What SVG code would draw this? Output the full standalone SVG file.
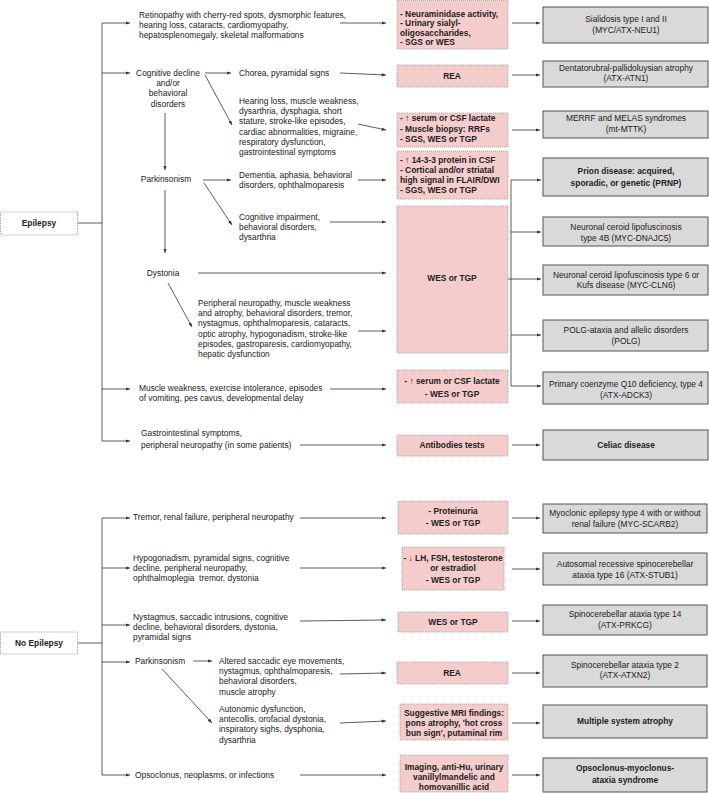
<svg xmlns="http://www.w3.org/2000/svg" width="709" height="793" viewBox="0 0 709 793">
<defs>
<style>
.t{font-family:"Liberation Sans",Arial,sans-serif;font-size:8.4px;fill:#222}
.b{font-weight:bold}
.m{text-anchor:middle}
.pk{fill:#f4cccc;stroke:#999;stroke-width:0.8;stroke-dasharray:1 1}
.gr{fill:#d9d9d9;stroke:#555;stroke-width:1}
.wb{fill:#fff;stroke:#888;stroke-width:0.8;stroke-dasharray:1 1}
.ln{stroke:#333;stroke-width:0.8;fill:none}
.ar{marker-end:url(#ah)}
</style>
<marker id="ah" viewBox="0 0 8 6" refX="8" refY="3" markerWidth="4.5" markerHeight="3.4" markerUnits="userSpaceOnUse" orient="auto"><path d="M0,0 L8,3 L0,6 z" fill="#333"/></marker>
</defs>
<rect width="709" height="793" fill="#fff"/>

<g id="connectors">
<line class="ln" x1="78" y1="223" x2="102" y2="223"/>
<line class="ln" x1="102" y1="23" x2="102" y2="441"/>
<line class="ln ar" x1="102" y1="23" x2="130" y2="23"/>
<line class="ln ar" x1="102" y1="73" x2="130" y2="73"/>
<line class="ln ar" x1="102" y1="389" x2="130" y2="389"/>
<line class="ln ar" x1="102" y1="441" x2="130" y2="441"/>
<line class="ln ar" x1="205" y1="73" x2="231" y2="73"/>
<line class="ln ar" x1="205" y1="75" x2="232" y2="125"/>
<line class="ln ar" x1="165" y1="113" x2="165" y2="170"/>
<line class="ln ar" x1="203" y1="180" x2="231" y2="180"/>
<line class="ln ar" x1="204" y1="183" x2="232" y2="225"/>
<line class="ln ar" x1="165" y1="190" x2="165" y2="253"/>
<line class="ln ar" x1="168" y1="283" x2="192" y2="327"/>
<line class="ln ar" x1="340" y1="23" x2="386" y2="23"/>
<line class="ln ar" x1="340" y1="73" x2="386" y2="75"/>
<line class="ln ar" x1="358" y1="124" x2="386" y2="130"/>
<line class="ln ar" x1="358" y1="180" x2="386" y2="180"/>
<line class="ln ar" x1="330" y1="222" x2="386" y2="222"/>
<line class="ln ar" x1="198" y1="273" x2="386" y2="273"/>
<line class="ln ar" x1="358" y1="331" x2="386" y2="331"/>
<line class="ln ar" x1="330" y1="389" x2="386" y2="389"/>
<line class="ln ar" x1="300" y1="445" x2="386" y2="445"/>
<line class="ln ar" x1="512" y1="23" x2="540" y2="23"/>
<line class="ln ar" x1="512" y1="75" x2="540" y2="75"/>
<line class="ln ar" x1="512" y1="130" x2="540" y2="130"/>
<line class="ln" x1="511" y1="180" x2="511" y2="386"/>
<line class="ln ar" x1="511" y1="180" x2="541" y2="180"/>
<line class="ln ar" x1="511" y1="232" x2="541" y2="232"/>
<line class="ln ar" x1="508" y1="279" x2="541" y2="279"/>
<line class="ln ar" x1="511" y1="335" x2="541" y2="335"/>
<line class="ln ar" x1="511" y1="386" x2="541" y2="386"/>
<line class="ln ar" x1="512" y1="445" x2="540" y2="445"/>
<line class="ln" x1="78" y1="643" x2="102" y2="643"/>
<line class="ln" x1="102" y1="518" x2="102" y2="775"/>
<line class="ln ar" x1="102" y1="518" x2="130" y2="518"/>
<line class="ln ar" x1="102" y1="568" x2="130" y2="568"/>
<line class="ln ar" x1="102" y1="625" x2="130" y2="625"/>
<line class="ln ar" x1="102" y1="662" x2="130" y2="662"/>
<line class="ln ar" x1="102" y1="775" x2="130" y2="775"/>
<line class="ln ar" x1="193" y1="661" x2="212" y2="661"/>
<line class="ln ar" x1="162" y1="669" x2="212" y2="723"/>
<line class="ln ar" x1="300" y1="518" x2="386" y2="518"/>
<line class="ln ar" x1="300" y1="568" x2="386" y2="568"/>
<line class="ln ar" x1="300" y1="621" x2="386" y2="620"/>
<line class="ln ar" x1="340" y1="674" x2="386" y2="673"/>
<line class="ln ar" x1="340" y1="723" x2="386" y2="721"/>
<line class="ln ar" x1="300" y1="775" x2="386" y2="775"/>
<line class="ln ar" x1="512" y1="518" x2="540" y2="518"/>
<line class="ln ar" x1="512" y1="569" x2="540" y2="569"/>
<line class="ln ar" x1="512" y1="621" x2="540" y2="621"/>
<line class="ln ar" x1="512" y1="673" x2="540" y2="673"/>
<line class="ln ar" x1="512" y1="723" x2="540" y2="723"/>
<line class="ln ar" x1="512" y1="775" x2="540" y2="775"/>
</g>

<g id="epilepsy"><rect class="wb" x="0.5" y="212" width="77" height="23"/><text class="t b m" x="39" y="226">Epilepsy</text></g>
<g id="no-epilepsy"><rect class="wb" x="0.5" y="632" width="77" height="22"/><text class="t b m" x="39" y="646">No Epilepsy</text></g>

<g id="retinopathy"><text class="t" x="139" y="18">Retinopathy with cherry-red spots, dysmorphic features,</text><text class="t" x="139" y="28.2">hearing loss, cataracts, cardiomyopathy,</text><text class="t" x="139" y="38.4">hepatosplenomegaly, skeletal malformations</text></g>
<g id="cognitive"><text class="t m" x="168" y="76">Cognitive decline</text><text class="t m" x="168" y="86.2">and/or</text><text class="t m" x="168" y="96.4">behavioral</text><text class="t m" x="168" y="106.6">disorders</text></g>
<g id="chorea"><text class="t" x="239" y="76">Chorea, pyramidal signs</text></g>
<g id="hearing"><text class="t" x="239" y="104">Hearing loss, muscle weakness,</text><text class="t" x="239" y="114.2">dysarthria, dysphagia, short</text><text class="t" x="239" y="124.4">stature, stroke-like episodes,</text><text class="t" x="239" y="134.6">cardiac abnormalities, migraine,</text><text class="t" x="239" y="144.8">respiratory dysfunction,</text><text class="t" x="239" y="155">gastrointestinal symptoms</text></g>
<g id="parkinsonism-e"><text class="t m" x="166" y="182">Parkinsonism</text></g>
<g id="dementia"><text class="t" x="239" y="178">Dementia, aphasia, behavioral</text><text class="t" x="239" y="188.2">disorders, ophthalmoparesis</text></g>
<g id="cog-impairment"><text class="t" x="239" y="220">Cognitive impairment,</text><text class="t" x="239" y="230.2">behavioral disorders,</text><text class="t" x="239" y="240.4">dysarthria</text></g>
<g id="dystonia"><text class="t m" x="163" y="276">Dystonia</text></g>
<g id="peripheral"><text class="t" x="198" y="306">Peripheral neuropathy, muscle weakness</text><text class="t" x="198" y="316.2">and atrophy, behavioral disorders, tremor,</text><text class="t" x="198" y="326.4">nystagmus, ophthalmoparesis, cataracts,</text><text class="t" x="198" y="336.6">optic atrophy, hypogonadism, stroke-like</text><text class="t" x="198" y="346.8">episodes, gastroparesis, cardiomyopathy,</text><text class="t" x="198" y="357">hepatic dysfunction</text></g>
<g id="muscle"><text class="t" x="139" y="391">Muscle weakness, exercise intolerance, episodes</text><text class="t" x="139" y="401.2">of vomiting, pes cavus, developmental delay</text></g>
<g id="gastro"><text class="t" x="141" y="436">Gastrointestinal symptoms,</text><text class="t" x="141" y="448">peripheral neuropathy (in some patients)</text></g>

<g id="test-neu"><rect class="pk" x="397" y="0.5" width="111" height="48.5"/><text class="t b" x="400" y="17">- Neuraminidase activity,</text><text class="t b" x="400" y="26.3">- Urinary sialyl-</text><text class="t b" x="400" y="35.6">oligosaccharides,</text><text class="t b" x="400" y="44.9">- SGS or WES</text></g>
<g id="test-rea1"><rect class="pk" x="397" y="65" width="111" height="22"/><text class="t b m" x="452" y="79">REA</text></g>
<g id="test-lact1"><rect class="pk" x="397" y="113" width="111" height="34"/><text class="t b" x="400" y="121">- ↑ serum or CSF lactate</text><text class="t b" x="400" y="131.5">- Muscle biopsy: RRFs</text><text class="t b" x="400" y="142">- SGS, WES or TGP</text></g>
<g id="test-prion"><rect class="pk" x="397" y="151" width="111" height="48"/><text class="t b" x="400" y="163">- ↑ 14-3-3 protein in CSF</text><text class="t b" x="400" y="173">- Cortical and/or striatal</text><text class="t b" x="400" y="183">high signal in FLAIR/DWI</text><text class="t b" x="400" y="193">- SGS, WES or TGP</text></g>
<g id="test-wes1"><rect class="pk" x="397" y="206" width="111" height="147"/><text class="t b m" x="452" y="281">WES or TGP</text></g>
<g id="test-lact2"><rect class="pk" x="397" y="370" width="111" height="33"/><text class="t b m" x="452" y="384">- ↑ serum or CSF lactate</text><text class="t b m" x="452" y="397">- WES or TGP</text></g>
<g id="test-ab"><rect class="pk" x="397" y="435" width="111" height="21"/><text class="t b m" x="452" y="448">Antibodies tests</text></g>

<g id="dx-sialidosis"><rect class="gr" x="543" y="7" width="165" height="36"/><text class="t m" x="626" y="22">Sialidosis type I and II</text><text class="t m" x="626" y="32.5">(MYC/ATX-NEU1)</text></g>
<g id="dx-drpla"><rect class="gr" x="543" y="61" width="165" height="26"/><text class="t m" x="626" y="70.5">Dentatorubral-pallidoluysian atrophy</text><text class="t m" x="626" y="81">(ATX-ATN1)</text></g>
<g id="dx-merrf"><rect class="gr" x="543" y="111" width="165" height="27"/><text class="t m" x="626" y="121">MERRF and MELAS syndromes</text><text class="t m" x="626" y="132">(mt-MTTK)</text></g>
<g id="dx-prion"><rect class="gr" x="543" y="158" width="165" height="38"/><text class="t b m" x="626" y="174">Prion disease: acquired,</text><text class="t b m" x="626" y="186">sporadic, or genetic (PRNP)</text></g>
<g id="dx-ncl4b"><rect class="gr" x="543" y="217" width="165" height="29"/><text class="t m" x="626" y="230">Neuronal ceroid lipofuscinosis</text><text class="t m" x="626" y="240.5">type 4B (MYC-DNAJC5)</text></g>
<g id="dx-ncl6"><rect class="gr" x="543" y="265" width="165" height="30"/><text class="t m" x="626" y="277.5">Neuronal ceroid lipofuscinosis type 6 or</text><text class="t m" x="626" y="288">Kufs disease (MYC-CLN6)</text></g>
<g id="dx-polg"><rect class="gr" x="543" y="320" width="165" height="31"/><text class="t m" x="626" y="333">POLG-ataxia and allelic disorders</text><text class="t m" x="626" y="344">(POLG)</text></g>
<g id="dx-coq10"><rect class="gr" x="543" y="372" width="165" height="32"/><text class="t m" x="626" y="387">Primary coenzyme Q10 deficiency, type 4</text><text class="t m" x="626" y="398">(ATX-ADCK3)</text></g>
<g id="dx-celiac"><rect class="gr" x="543" y="430" width="165" height="30"/><text class="t b m" x="626" y="448">Celiac disease</text></g>

<g id="tremor"><text class="t" x="133" y="520">Tremor, renal failure, peripheral neuropathy</text></g>
<g id="hypogonadism"><text class="t" x="133" y="561">Hypogonadism, pyramidal signs, cognitive</text><text class="t" x="133" y="571.2">decline, peripheral neuropathy,</text><text class="t" x="133" y="581.4">ophthalmoplegia&#160; tremor, dystonia</text></g>
<g id="nystagmus"><text class="t" x="133" y="620">Nystagmus, saccadic intrusions, cognitive</text><text class="t" x="133" y="630.2">decline, behavioral disorders, dystonia,</text><text class="t" x="133" y="640.4">pyramidal signs</text></g>
<g id="parkinsonism-n"><text class="t" x="135" y="664">Parkinsonism</text></g>
<g id="altered"><text class="t" x="219" y="664">Altered saccadic eye movements,</text><text class="t" x="219" y="674.2">nystagmus, ophthalmoparesis,</text><text class="t" x="219" y="684.4">behavioral disorders,</text><text class="t" x="219" y="694.6">muscle atrophy</text></g>
<g id="autonomic"><text class="t" x="219" y="712">Autonomic dysfunction,</text><text class="t" x="219" y="722.2">antecollis, orofacial dystonia,</text><text class="t" x="219" y="732.4">inspiratory sighs, dysphonia,</text><text class="t" x="219" y="742.6">dysarthria</text></g>
<g id="opsoclonus"><text class="t" x="135" y="778">Opsoclonus, neoplasms, or infections</text></g>

<g id="test-prot"><rect class="pk" x="398" y="501" width="110" height="33"/><text class="t b m" x="453" y="514">- Proteinuria</text><text class="t b m" x="453" y="526">- WES or TGP</text></g>
<g id="test-lh"><rect class="pk" x="402" y="547" width="102" height="43"/><text class="t b m" x="453" y="561">- ↓ LH, FSH, testosterone</text><text class="t b m" x="453" y="571">or estradiol</text><text class="t b m" x="453" y="583">- WES or TGP</text></g>
<g id="test-wes2"><rect class="pk" x="398" y="612" width="110" height="20"/><text class="t b m" x="453" y="625">WES or TGP</text></g>
<g id="test-rea2"><rect class="pk" x="397" y="662" width="111" height="22"/><text class="t b m" x="452" y="676">REA</text></g>
<g id="test-mri"><rect class="pk" x="400" y="704" width="108" height="36"/><text class="t b m" x="454" y="716">Suggestive MRI findings:</text><text class="t b m" x="454" y="726">pons atrophy, 'hot cross</text><text class="t b m" x="454" y="736">bun sign', putaminal rim</text></g>
<g id="test-img"><rect class="pk" x="400" y="755" width="108" height="37"/><text class="t b m" x="454" y="770">Imaging, anti-Hu, urinary</text><text class="t b m" x="454" y="780">vanillylmandelic and</text><text class="t b m" x="454" y="790">homovanillic acid</text></g>

<g id="dx-scarb2"><rect class="gr" x="543" y="504" width="164" height="29"/><text class="t m" x="625" y="516">Myoclonic epilepsy type 4 with or without</text><text class="t m" x="625" y="526.5">renal failure (MYC-SCARB2)</text></g>
<g id="dx-stub1"><rect class="gr" x="543" y="553" width="164" height="32"/><text class="t m" x="625" y="567">Autosomal recessive spinocerebellar</text><text class="t m" x="625" y="578">ataxia type 16 (ATX-STUB1)</text></g>
<g id="dx-sca14"><rect class="gr" x="543" y="605" width="164" height="30"/><text class="t m" x="625" y="617">Spinocerebellar ataxia type 14</text><text class="t m" x="625" y="627.5">(ATX-PRKCG)</text></g>
<g id="dx-sca2"><rect class="gr" x="543" y="655" width="164" height="32"/><text class="t m" x="625" y="667.5">Spinocerebellar ataxia type 2</text><text class="t m" x="625" y="678">(ATX-ATXN2)</text></g>
<g id="dx-msa"><rect class="gr" x="543" y="705" width="164" height="33"/><text class="t b m" x="625" y="724">Multiple system atrophy</text></g>
<g id="dx-omas"><rect class="gr" x="543" y="758" width="164" height="34"/><text class="t b m" x="625" y="771">Opsoclonus-myoclonus-</text><text class="t b m" x="625" y="783">ataxia syndrome</text></g>
</svg>
